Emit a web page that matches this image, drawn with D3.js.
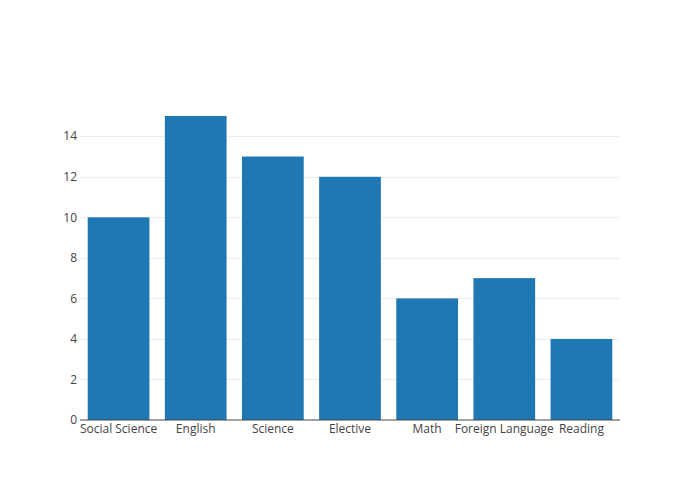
<!DOCTYPE html>
<html><head><meta charset="utf-8">
<script src="https://cdn.jsdelivr.net/npm/d3@7"></script>
<style>body{margin:0;background:#fff}svg{display:block}</style>
</head><body>
<svg id="c" width="700" height="500"></svg>
<script>
const categories = ["Social Science","English","Science","Elective","Math","Foreign Language","Reading"];
const values = [10,15,13,12,6,7,4];
const yTicks = [0,2,4,6,8,10,12,14];

const W=700,H=500,m={l:80,r:80,t:100,b:80};
const svg=d3.select("#c");
const x=d3.scaleBand().domain(categories).range([m.l,W-m.r]).paddingInner(0.2).paddingOuter(0.1);
const y=d3.scaleLinear().domain([0,15*1.0526]).range([H-m.b,m.t]);

const font="'Open Sans', sans-serif";
// gridlines
svg.append("g").selectAll("line").data(yTicks.filter(d=>d>0)).join("line")
  .attr("x1",m.l).attr("x2",W-m.r)
  .attr("y1",d=>Math.round(y(d))+0.5).attr("y2",d=>Math.round(y(d))+0.5)
  .attr("stroke","#eee").attr("stroke-width",1);

// bars
svg.append("g").selectAll("rect").data(values).join("rect")
  .attr("x",(d,i)=>x(categories[i])).attr("width",x.bandwidth())
  .attr("y",d=>y(d)).attr("height",d=>y(0)-y(d))
  .attr("fill","#1f77b4");

// zero line
svg.append("line").attr("x1",m.l).attr("x2",W-m.r)
  .attr("y1",y(0)).attr("y2",y(0)).attr("stroke","#444").attr("stroke-width",1);

// y labels
svg.append("g").selectAll("text").data(yTicks).join("text")
  .attr("x",m.l-3).attr("y",d=>y(d)).attr("dy","0.35em")
  .attr("text-anchor","end").attr("font-family",font).attr("font-size",12).attr("fill","#444")
  .text(d=>d);

// x labels
svg.append("g").selectAll("text").data(categories).join("text")
  .attr("x",d=>x(d)+x.bandwidth()/2).attr("y",H-m.b+4).attr("dy","0.71em")
  .attr("text-anchor","middle").attr("font-family",font).attr("font-size",12).attr("fill","#444")
  .text(d=>d);
</script>
</body></html>
